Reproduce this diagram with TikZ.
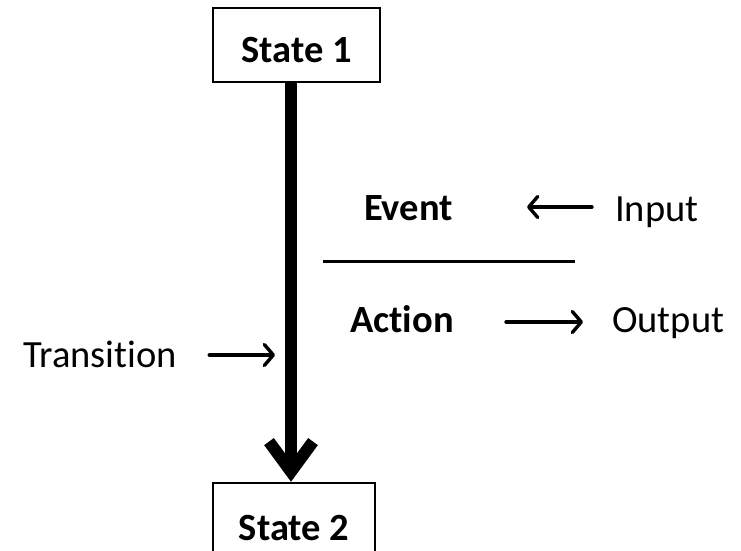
\documentclass[tikz,border=0pt]{standalone}
\usepackage{fontspec}
\setmainfont{Carlito}[Ligatures=NoCommon]
\usetikzlibrary{arrows.meta}
\begin{document}
\begin{tikzpicture}[x=1pt,y=-1pt,
  every node/.style={inner sep=0pt,font=\fontsize{38.5}{46}\selectfont},
  statebox/.style={draw,line width=2.5pt,font=\fontsize{38.5}{46}\selectfont\bfseries,anchor=base},
  textlabel/.style={anchor=base},
  textarrow/.style={line width=3.4pt,line cap=round,-{Straight Barb[length=9pt,width=21pt,round,line width=3.4pt]}},
  transitionarrow/.style={line width=12pt,-{Straight Barb[length=30pt,width=44pt]}}]
  \useasboundingbox (0,0) rectangle (741,551);
  \clip (0,0) rectangle (741,551);
  \fill[white] (0,0) rectangle (741,551);

  % states
  \node[statebox,minimum width=167pt,text height=55pt,text depth=19pt] (s1) at (296.5,63) {State 1};
  \node[statebox,minimum width=162pt,text height=57pt,text depth=30pt] (s2) at (294,540) {State 2};

  % transition
  \draw[transitionarrow] ([xshift=-5.5pt]s1.south) -- ([xshift=-3pt]s2.north);

  % event / action labels
  \node[textlabel,font=\fontsize{38.5}{46}\selectfont\bfseries] (ev) at (408.5,220) {Event};
  \node[textlabel,font=\fontsize{38.5}{46}\selectfont\bfseries] (ac) at (402,332) {Action};
  \draw[line width=3pt] (323,261) -- (575,261);

  \node[textlabel,anchor=base west] (in) at (615,221) {Input};
  \node[textlabel,anchor=base west] (out) at (612,332) {Output};
  \node[textlabel,anchor=base west] (tr) at (23,367) {Transition};
  \coordinate (shaft) at (285,355);

  \draw[textarrow,shorten <=23pt,shorten >=74pt] (in.west |- 0,207) -- (ev.east |- 0,207);
  \draw[textarrow,shorten <=52pt,shorten >=29pt] (ac.east |- 0,322) -- (out.west |- 0,322);
  \draw[textarrow,shorten <=32pt,shorten >=10pt] (tr.east |- shaft) -- (shaft);
\end{tikzpicture}
\end{document}
